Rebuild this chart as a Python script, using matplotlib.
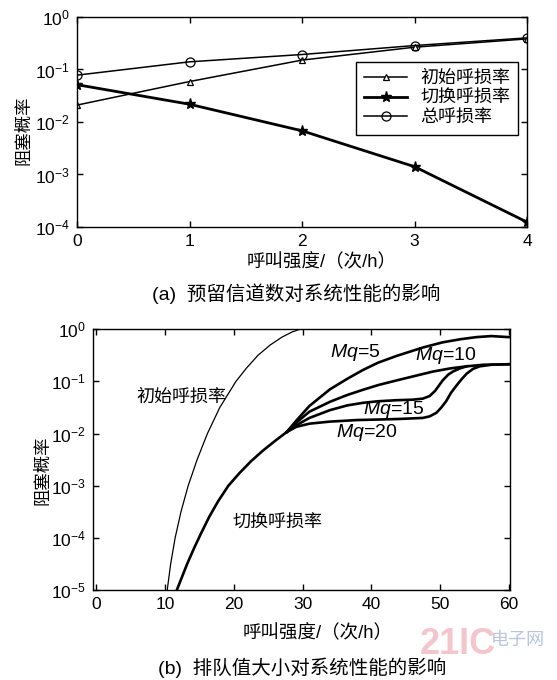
import numpy as np
import matplotlib
matplotlib.use("Agg")
import matplotlib.pyplot as plt
from matplotlib.ticker import FixedLocator, FuncFormatter

plt.rcParams['font.family'] = ['Liberation Sans', 'Noto Sans CJK SC', 'DejaVu Sans']
plt.rcParams['mathtext.fontset'] = 'custom'
plt.rcParams['mathtext.rm'] = 'Liberation Sans'
plt.rcParams['mathtext.it'] = 'Liberation Sans:italic'
plt.rcParams['axes.unicode_minus'] = True

# ---------- data: chart (a) ----------
reserve_x = [0, 1, 2, 3, 4]
initial_loss = [0.021, 0.059, 0.151, 0.266, 0.383]
handoff_loss = [0.0514, 0.0218, 0.0068, 0.00141, 0.000124]
total_loss = [0.078, 0.14, 0.193, 0.286, 0.40]
legend_labels = ['初始呼损率', '切换呼损率', '总呼损率']

# ---------- data: chart (b)  (values read as log10 of probability) ----------
init_b_x = [10.3, 10.8, 11.45, 12.3, 13.35, 14.65, 16.15, 17.95, 20.3, 21.8, 23.5,
            25.3, 27.0, 28.5, 29.6, 31.0]
init_b_log = [-5.0, -4.5, -4.0, -3.5, -3.0, -2.5, -2.0, -1.5, -1.0, -0.75, -0.5,
              -0.3, -0.15, -0.05, 0.0, 0.05]

trunk_x = [11.7, 12.3, 13.2, 14.2, 15.2, 16.4, 17.7, 19.2, 20.8, 22.5, 24.2, 26.0, 27.7]
trunk_log = [-5.0, -4.8, -4.5, -4.2, -3.92, -3.6, -3.3, -3.0, -2.76, -2.53, -2.33, -2.14, -1.97]

mq5_x = [27.7, 29.1, 31.0, 34.0, 36.5, 38.8, 41.0, 43.7, 47.5, 50.4, 53.0, 55.3, 57.5, 60.0]
mq5_log = [-1.97, -1.75, -1.47, -1.15, -0.95, -0.78, -0.64, -0.51, -0.35, -0.25, -0.19, -0.15, -0.13, -0.15]

mq10_x = [27.7, 29.1, 31.0, 34.0, 36.5, 38.8, 41.0, 43.7, 46.5, 49.0, 51.5, 53.9, 56.3, 60.0]
mq10_log = [-1.97, -1.79, -1.58, -1.39, -1.26, -1.16, -1.07, -0.98, -0.89, -0.81, -0.75, -0.71, -0.68, -0.67]

mq15_x = [27.7, 29.1, 31.0, 34.0, 36.5, 38.8, 41.0, 43.7, 46.0, 47.5, 48.5, 49.3, 50.4, 51.2, 51.9, 52.9, 53.9]
mq15_log = [-1.97, -1.84, -1.70, -1.55, -1.46, -1.41, -1.38, -1.36, -1.35, -1.33, -1.28, -1.18, -0.98, -0.87, -0.81, -0.75, -0.71]

mq20_x = [27.7, 29.1, 31.0, 34.0, 38.0, 41.2, 44.0, 47.5, 48.5, 49.5, 50.2, 50.9, 51.6, 52.4,
          53.2, 53.9, 54.8, 55.8, 57.5, 60.0]
mq20_log = [-1.97, -1.87, -1.81, -1.77, -1.74, -1.73, -1.72, -1.70, -1.67, -1.60, -1.50, -1.38, -1.22, -1.08,
            -0.95, -0.85, -0.76, -0.71, -0.68, -0.67]

W, H = 557, 680
fig = plt.figure(figsize=(W / 100, H / 100), dpi=100)


def fx(px):
    return px / W


def fy(py):
    return 1 - py / H


def log_fmt(v, pos):
    e = int(round(np.log10(v)))
    return r'$10^{%d}$' % e


TICK_FS = 12.5
LAB_FS = 13.3
CAP_FS = 14
ANN_FS = 13

# ================= chart (a) =================
ax1 = fig.add_axes([fx(77), fy(227), fx(527) - fx(77), fy(17) - fy(227)])
ax1.set_yscale('log')
ax1.plot(reserve_x, initial_loss, '-', color='black', lw=1.1, marker='^', ms=5,
         mfc='white', mec='black', mew=0.9, label=legend_labels[0])
ax1.plot(reserve_x, handoff_loss, '-', color='black', lw=2.0, marker='*', ms=8,
         mfc='black', mec='black', label=legend_labels[1])
ax1.plot(reserve_x, total_loss, '-', color='black', lw=1.1, marker='o', ms=6.5,
         mfc='none', mec='black', mew=0.9, label=legend_labels[2])
ax1.set_xlim(0, 4)
ax1.set_ylim(1e-4, 1)
ax1.xaxis.set_major_locator(FixedLocator([0, 1, 2, 3, 4]))
ax1.yaxis.set_major_locator(FixedLocator([1e-4, 1e-3, 1e-2, 1e-1, 1]))
ax1.yaxis.set_minor_locator(FixedLocator([]))
ax1.yaxis.set_major_formatter(FuncFormatter(log_fmt))
leg = ax1.legend(loc='upper left', bbox_to_anchor=(0.62, 0.785), fontsize=ANN_FS,
                 frameon=True, fancybox=False, edgecolor='black', framealpha=1,
                 handlelength=2.4, handletextpad=0.7, labelspacing=0.15,
                 borderpad=0.45, borderaxespad=0)
leg.get_frame().set_linewidth(1.0)

# ================= chart (b) =================
ax2 = fig.add_axes([fx(92.7), fy(590), fx(510) - fx(92.7), fy(329.3) - fy(590)])
ax2.set_yscale('log')
ax2.plot(init_b_x, 10 ** np.array(init_b_log), color='black', lw=0.9)
ax2.plot(trunk_x, 10 ** np.array(trunk_log), color='black', lw=1.9)
for xs, ls in [(mq5_x, mq5_log), (mq10_x, mq10_log), (mq15_x, mq15_log), (mq20_x, mq20_log)]:
    ax2.plot(xs, 10 ** np.array(ls), color='black', lw=1.9)
ax2.set_xlim(-0.55, 60.2)
ax2.set_ylim(1e-5, 1)
ax2.xaxis.set_major_locator(FixedLocator([0, 10, 20, 30, 40, 50, 60]))
ax2.yaxis.set_major_locator(FixedLocator([1e-5, 1e-4, 1e-3, 1e-2, 1e-1, 1]))
ax2.yaxis.set_minor_locator(FixedLocator([]))
ax2.yaxis.set_major_formatter(FuncFormatter(log_fmt))

ax2.text(37.6, 10 ** -0.449, r'$Mq$=5', fontsize=CAP_FS, ha='center', va='center')
ax2.text(50.8, 10 ** -0.512, r'$Mq$=10', fontsize=CAP_FS, ha='center', va='center')
ax2.text(43.3, 10 ** -1.53, r'$Mq$=15', fontsize=CAP_FS, ha='center', va='center')
ax2.text(39.4, 10 ** -1.97, r'$Mq$=20', fontsize=CAP_FS, ha='center', va='center')
ax2.text(12.3, 10 ** -1.304, '初始呼损率', fontsize=ANN_FS, ha='center', va='center')
ax2.text(26.4, 10 ** -3.72, '切换呼损率', fontsize=ANN_FS, ha='center', va='center')

for ax in (ax1, ax2):
    for sp in ax.spines.values():
        sp.set_linewidth(1.0)
    ax.tick_params(which='both', direction='in', top=True, right=True,
                   length=4, width=1.0, labelsize=TICK_FS, pad=5)

# labels and captions
fig.text(fx(23), fy(130), '阻塞概率', rotation=90, fontsize=12.5, ha='center', va='center')
fig.text(fx(322), fy(262), '呼叫强度/（次/h）', fontsize=LAB_FS, ha='center', va='center')
fig.text(fx(296), fy(294), '(a)  预留信道数对系统性能的影响', fontsize=CAP_FS, ha='center', va='center')

fig.text(fx(42), fy(470), '阻塞概率', rotation=90, fontsize=12.5, ha='center', va='center')
fig.text(fx(318), fy(633), '呼叫强度/（次/h）', fontsize=LAB_FS, ha='center', va='center')
fig.text(fx(302), fy(668), '(b)  排队值大小对系统性能的影响', fontsize=CAP_FS, ha='center', va='center')

# faint watermark
fig.text(fx(458), fy(644), '21IC', fontsize=26, fontweight='bold', color='#f2b8c0',
         ha='center', va='center', alpha=0.8)
fig.text(fx(518), fy(640), '电子网', fontsize=13, color='#b8c4e0', ha='center', va='center')

fig.savefig('out.png', dpi=100)
